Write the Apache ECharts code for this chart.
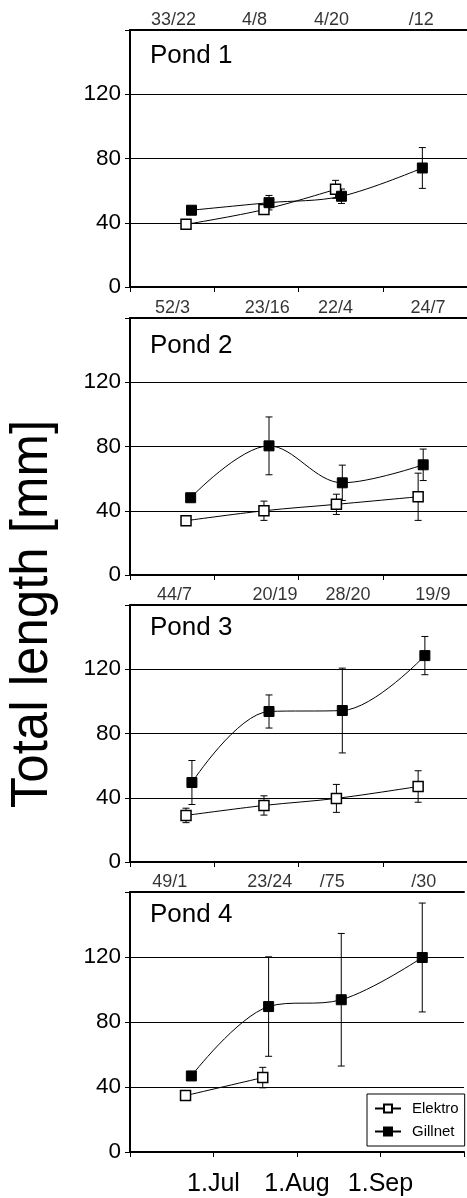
<!DOCTYPE html>
<html>
<head>
<meta charset="utf-8">
<script src="https://cdn.jsdelivr.net/npm/echarts@6/dist/echarts.min.js"></script>
<style>
html,body{margin:0;padding:0;background:#fff;}
#c{width:467px;height:1198px;}
</style>
</head>
<body>
<div id="c"></div>
<script>
// ---- data (x = months after 1.Jun) ----
const pondNames = ['Pond 1', 'Pond 2', 'Pond 3', 'Pond 4'];
const xTickLabels = { 1: '1.Jul', 2: '1.Aug', 3: '1.Sep' };
const yAxisTitle = 'Total length [mm]';
const seriesNames = ['Elektro', 'Gillnet'];

const elektroX = [
  [0.665, 1.59, 2.44],
  [0.665, 1.59, 2.45, 3.42],
  [0.665, 1.59, 2.45, 3.42],
  [0.665, 1.59]
];
const elektroY = [
  [39.0, 48.2, 60.8],
  [33.8, 40.0, 44.0, 48.7],
  [29.0, 35.2, 39.6, 47.0],
  [34.7, 45.8]
];
const elektroErr = [
  [0, 3, 5.6],
  [0, 6, 6.3, 14.7],
  [4.5, 6, 8.7, 9.8],
  [0, 6.3]
];
const gillnetX = [
  [0.73, 1.65, 2.51, 3.47],
  [0.72, 1.65, 2.52, 3.48],
  [0.735, 1.65, 2.52, 3.50],
  [0.735, 1.66, 2.53, 3.50]
];
const gillnetY = [
  [47.8, 52.5, 56.5, 74.1],
  [48.1, 80.4, 57.4, 68.6],
  [49.5, 93.7, 94.3, 128.5],
  [46.8, 89.5, 93.7, 119.7]
];
const gillnetErr = [
  [0, 4.5, 4.5, 12.7],
  [0, 18, 11, 9.8],
  [13.7, 10.3, 26.4, 11.9],
  [0, 30.6, 40.8, 33.5]
];
const sampleLabels = [
  ['33/22', '4/8', '4/20', '/12'],
  ['52/3', '23/16', '22/4', '24/7'],
  ['44/7', '20/19', '28/20', '19/9'],
  ['49/1', '23/24', '/75', '/30']
];
const sampleLabelX = [
  [0.516, 1.477, 2.392, 3.458],
  [0.504, 1.63, 2.44, 3.537],
  [0.528, 1.72, 2.587, 3.595],
  [0.477, 1.673, 2.423, 3.517]
];

// ---- layout ----
const FONT = "'Liberation Sans', Arial, sans-serif";
const gridTops = [30, 318, 605, 892];
const gridHeights = [257, 257, 257, 260];
const pondTitleTops = [43, 333, 615, 901.5];
const Y_MAX = 160;

const chart = echarts.init(document.getElementById('c'), null, { renderer: 'canvas' });

const grids = [], xAxes = [], yAxes = [], series = [], titles = [];

function errRender(params, api) {
  const x = api.value(0), y = api.value(1), e = api.value(2);
  if (!e) return null;
  const t = api.coord([x, y + e]), b = api.coord([x, y - e]);
  const hw = 3.5;
  const st = { stroke: '#000', lineWidth: 1 };
  return {
    type: 'group',
    children: [
      { type: 'line', shape: { x1: t[0], y1: t[1], x2: b[0], y2: b[1] }, style: st },
      { type: 'line', shape: { x1: t[0] - hw, y1: t[1], x2: t[0] + hw, y2: t[1] }, style: st },
      { type: 'line', shape: { x1: b[0] - hw, y1: b[1], x2: b[0] + hw, y2: b[1] }, style: st }
    ]
  };
}

for (let i = 0; i < 4; i++) {
  grids.push({ left: 130, right: -4, top: gridTops[i], height: gridHeights[i] });
  // bottom x axis
  xAxes.push({
    type: 'value', gridIndex: i, min: 0, max: 4, interval: 1, position: 'bottom',
    axisLine: { show: true, lineStyle: { color: '#000', width: 2 } },
    axisTick: { show: true, length: 5, lineStyle: { color: '#000', width: 1 } },
    splitLine: { show: false },
    axisLabel: {
      show: i === 3, margin: 20, color: '#000', fontSize: 25, fontFamily: FONT,
      formatter: v => xTickLabels[v] || ''
    }
  });
  // top border axis
  xAxes.push({
    type: 'value', gridIndex: i, min: 0, max: 4, interval: 1, position: 'top',
    axisLine: { show: true, lineStyle: { color: '#000', width: 2 } },
    axisTick: { show: false }, axisLabel: { show: false }, splitLine: { show: false }
  });
  yAxes.push({
    type: 'value', gridIndex: i, min: 0, max: Y_MAX, interval: 40,
    axisLine: { show: true, lineStyle: { color: '#000', width: 2 } },
    axisTick: { show: true, length: 5, lineStyle: { color: '#000', width: 1 } },
    splitLine: { show: true, lineStyle: { color: '#000', width: 1 } },
    axisLabel: {
      margin: 9, color: '#000', fontSize: 22.5, fontFamily: FONT,
      formatter: v => (v === Y_MAX ? '' : String(v))
    }
  });
  titles.push({
    text: pondNames[i], left: 150, top: pondTitleTops[i], padding: 0,
    textStyle: { fontSize: 26, fontWeight: 'normal', color: '#000', fontFamily: FONT }
  });

  const xi = i * 2;
  const eData = elektroX[i].map((x, k) => [x, elektroY[i][k], elektroErr[i][k]]);
  const gData = gillnetX[i].map((x, k) => [x, gillnetY[i][k], gillnetErr[i][k]]);

  series.push({
    type: 'custom', xAxisIndex: xi, yAxisIndex: i, renderItem: errRender,
    data: eData, z: 1, silent: true, clip: false
  });
  series.push({
    type: 'custom', xAxisIndex: xi, yAxisIndex: i, renderItem: errRender,
    data: gData, z: 1, silent: true, clip: false
  });
  series.push({
    name: seriesNames[0], type: 'line', xAxisIndex: xi, yAxisIndex: i,
    data: eData.map(d => [d[0], d[1]]), smooth: 0.35,
    symbol: 'rect', symbolSize: 10, showAllSymbol: true,
    lineStyle: { color: '#000', width: 1 },
    itemStyle: { color: '#fff', borderColor: '#000', borderWidth: 1.5 },
    z: 3, animation: false
  });
  series.push({
    name: seriesNames[1], type: 'line', xAxisIndex: xi, yAxisIndex: i,
    data: gData.map(d => [d[0], d[1]]), smooth: 0.35,
    symbol: 'rect', symbolSize: 10, showAllSymbol: true,
    lineStyle: { color: '#000', width: 1 },
    itemStyle: { color: '#000', borderColor: '#000', borderWidth: 1 },
    z: 4, animation: false
  });
  // sample size labels above each panel
  series.push({
    type: 'scatter', xAxisIndex: xi, yAxisIndex: i, symbolSize: 0,
    data: sampleLabelX[i].map((x, k) => ({ value: [x, Y_MAX], label: { formatter: sampleLabels[i][k] } })),
    label: { show: true, position: 'top', distance: 1, color: '#000', fontSize: 18, fontFamily: FONT },
    silent: true, clip: false, z: 5
  });
}

chart.setOption({
  animation: false,
  backgroundColor: '#fff',
  title: titles,
  grid: grids,
  xAxis: xAxes,
  yAxis: yAxes,
  legend: {
    data: seriesNames, orient: 'vertical', left: 367, top: 1094,
    padding: [7, 6, 7, 7], itemGap: 8, itemWidth: 26, itemHeight: 10,
    borderColor: '#000', borderWidth: 1, backgroundColor: '#fff', borderRadius: 0,
    textStyle: { fontSize: 15, color: '#000', fontFamily: FONT, padding: [0, 0, 0, 6] },
    z: 10
  },
  graphic: [{
    type: 'text', x: 33, y: 614, rotation: Math.PI / 2,
    style: {
      text: yAxisTitle, font: '51px ' + FONT, fill: '#000',
      textAlign: 'center', textVerticalAlign: 'middle'
    }
  }],
  series: series
});
</script>
</body>
</html>
